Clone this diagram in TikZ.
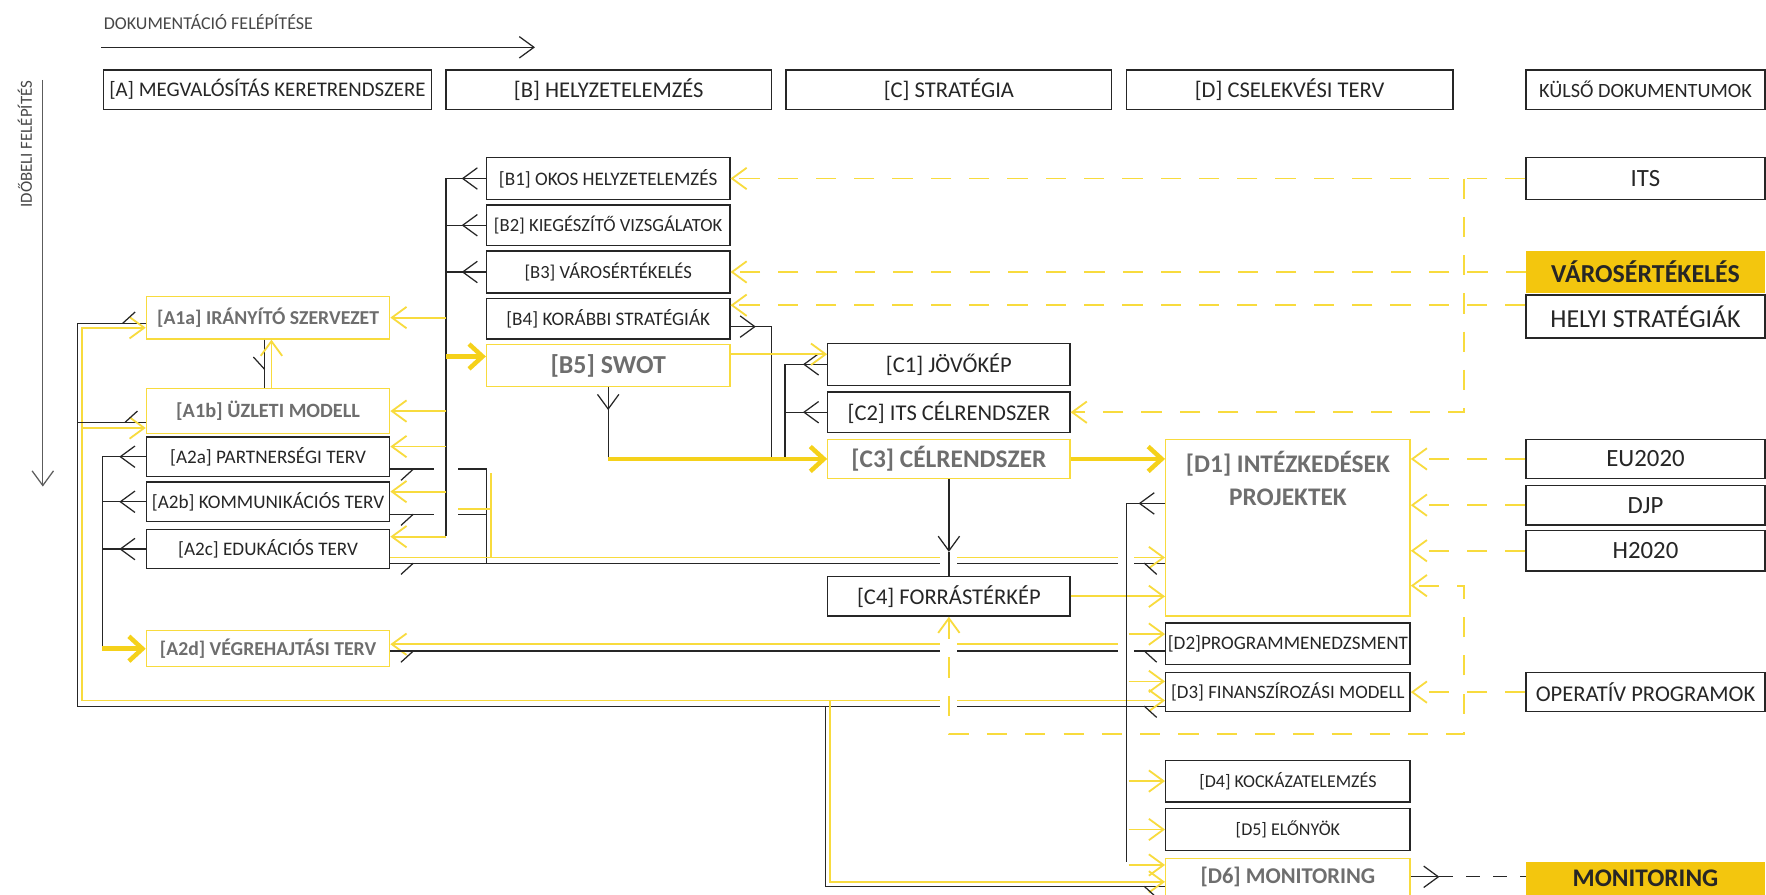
\documentclass[tikz,border=0pt]{standalone}
\usepackage{fontspec}
\setmainfont{Carlito}
\usetikzlibrary{arrows.meta}
\definecolor{yl}{HTML}{F8DB3E}
\definecolor{ylt}{HTML}{F5D11A}
\definecolor{gold}{HTML}{F3C60E}
\definecolor{gtx}{HTML}{6E6E6E}
\definecolor{dk}{HTML}{262626}
\newcommand\fz[1]{\fontsize{#1}{#1}\selectfont}
% half barbs: tip at (#1,#2)
\newcommand\hbRd[2]{\draw[ln] (#1,#2) -- ({#1-11},{#2+10});}
\newcommand\hbLd[2]{\draw[ln] (#1,#2) -- ({#1+11},{#2+10});}
\newcommand\hbLu[2]{\draw[ln] (#1,#2) -- ({#1+11},{#2-10});}
\newcommand\hbDl[2]{\draw[ln] (#1,#2) -- ({#1-10},{#2-11});}
\tikzset{
  sb/.tip={Straight Barb[length=13pt,width=19pt]},
  bigsb/.tip={Straight Barb[length=12pt,width=22pt]},
  bb/.style={draw=dk, line width=1.2pt, minimum width=216, minimum height=36, inner sep=0pt, text=dk, align=center},
  yb/.style={draw=yl, line width=1.2pt, fill=white, minimum width=216, minimum height=36, inner sep=0pt, text=gtx, align=center},
  gb/.style={fill=gold, minimum width=212, inner sep=0pt, text=dk, align=center},
  ln/.style={draw=dk, line width=1.1pt},
  yln/.style={draw=yl, line width=1.6pt},
  thk/.style={draw=ylt, line width=4pt},
  ydsh/.style={draw=yl, line width=1.6pt, dash pattern=on 18pt off 16pt},
}
\begin{document}
\begin{tikzpicture}[x=1pt,y=-1pt]
\useasboundingbox (0,0) rectangle (1568,794);
\fill[white] (0,0) rectangle (1568,794);

% titles
\node[anchor=west, font=\fz{16}, text=dk!85, inner sep=0pt] (t1) at (92,20) {DOKUMENTÁCIÓ FELÉPÍTÉSE};
\node[rotate=90, font=\fz{15}, text=dk!85, inner sep=0pt] (t2) at (22,128) {IDŐBELI FELÉPÍTÉS};
\coordinate (ta0) at (90,42); \coordinate (ta1) at (475,42);
\draw[ln,-{sb}] (ta0) -- (ta1);
\coordinate (tb0) at (38,71); \coordinate (tb1) at (38,432);
\draw[ln,draw=dk!75,-{sb}] (tb0) -- (tb1);

% header
\node[bb, minimum width=291, minimum height=35, font=\fz{18.5}] (hA) at (237.5,79.5) {[A] MEGVALÓSÍTÁS KERETRENDSZERE};
\node[bb, minimum width=289, minimum height=35, font=\fz{20}] (hB) at (540.5,79.5) {[B] HELYZETELEMZÉS};
\node[bb, minimum width=289, minimum height=35, font=\fz{20}] (hC) at (842.5,79.5) {[C] STRATÉGIA};
\node[bb, minimum width=290, minimum height=35, font=\fz{20}] (hD) at (1145,79.5) {[D] CSELEKVÉSI TERV};
\node[bb, minimum width=212, minimum height=35, font=\fz{18}] (hK) at (1461,79.5) {KÜLSŐ DOKUMENTUMOK};

% B column
\node[bb, minimum height=37, font=\fz{17}] (B1) at (540,158.5) {[B1] OKOS HELYZETELEMZÉS};
\node[bb, minimum height=36, font=\fz{16.5}] (B2) at (540,200) {[B2] KIEGÉSZÍTŐ VIZSGÁLATOK};
\node[bb, minimum height=37, font=\fz{16.5}] (B3) at (540,241.5) {[B3] VÁROSÉRTÉKELÉS};
\node[bb, minimum height=36, font=\fz{17}] (B4) at (540,283) {[B4] KORÁBBI STRATÉGIÁK};
\node[yb, minimum height=37, font=\fz{23}\bfseries] (B5) at (540,324.5) {[B5] SWOT};

% A column
\node[yb, minimum height=38, font=\fz{17.5}\bfseries] (A1a) at (238,282) {[A1a] IRÁNYÍTÓ SZERVEZET};
\node[yb, minimum height=40, font=\fz{18}\bfseries] (A1b) at (238,365) {[A1b] ÜZLETI MODELL};
\node[bb, minimum height=35, font=\fz{17}] (A2a) at (238,405.5) {[A2a] PARTNERSÉGI TERV};
\node[bb, minimum height=35, font=\fz{17}] (A2b) at (238,445.5) {[A2b] KOMMUNIKÁCIÓS TERV};
\node[bb, minimum height=35, font=\fz{17}] (A2c) at (238,487.5) {[A2c] EDUKÁCIÓS TERV};
\node[yb, minimum height=32, font=\fz{17.5}\bfseries] (A2d) at (238,576) {[A2d] VÉGREHAJTÁSI TERV};

% C column
\node[bb, minimum width=215, minimum height=37, font=\fz{20}] (C1) at (842.5,323.5) {[C1] JÖVŐKÉP};
\node[bb, minimum width=215, minimum height=36, font=\fz{20}] (C2) at (842.5,366) {[C2] ITS CÉLRENDSZER};
\node[yb, minimum width=215, minimum height=35, font=\fz{22.5}\bfseries] (C3) at (842.5,407.5) {[C3] CÉLRENDSZER};
\node[bb, minimum width=215, minimum height=35, font=\fz{20}] (C4) at (842.5,529.5) {[C4] FORRÁSTÉRKÉP};

% D column
\node[yb, minimum width=217, minimum height=157] (D1) at (1143.5,468.5) {};
\node[text=gtx, align=center, inner sep=0pt, font=\fontsize{22.5}{29}\selectfont\bfseries] (D1t) at (1143.5,425) {[D1] INTÉZKEDÉSEK\\PROJEKTEK};
\node[bb, minimum width=217, minimum height=37, font=\fz{17}] (D2) at (1143.5,571.5) {[D2]PROGRAMMENEDZSMENT};
\node[bb, minimum width=217, minimum height=35, font=\fz{16.8}] (D3) at (1143.5,614.5) {[D3] FINANSZÍROZÁSI MODELL};
\node[bb, minimum width=217, minimum height=37, font=\fz{16}] (D4) at (1143.5,693.5) {[D4] KOCKÁZATELEMZÉS};
\node[bb, minimum width=217, minimum height=37, font=\fz{16}] (D5) at (1143.5,736.5) {[D5] ELŐNYÖK};
\node[yb, minimum width=217, minimum height=33, font=\fz{20}\bfseries] (D6) at (1143.5,778.5) {[D6] MONITORING};

% external documents
\node[bb, minimum width=212, minimum height=37, font=\fz{22}] (ITS) at (1461,158.5) {ITS};
\node[gb, minimum height=37, font=\fz{23}\bfseries] (VAR) at (1461,241.5) {VÁROSÉRTÉKELÉS};
\node[bb, minimum width=212, minimum height=38, font=\fz{23}] (HEL) at (1461,281) {HELYI STRATÉGIÁK};
\node[bb, minimum width=212, minimum height=35, font=\fz{22}] (EU) at (1461,407.5) {EU2020};
\node[bb, minimum width=212, minimum height=35, font=\fz{22}] (DJP) at (1461,448.5) {DJP};
\node[bb, minimum width=212, minimum height=36, font=\fz{22}] (H20) at (1461,489) {H2020};
\node[bb, minimum width=212, minimum height=35, font=\fz{20}] (OP) at (1461,614.5) {OPERATÍV PROGRAMOK};
\node[gb, minimum height=30, font=\fz{22.5}\bfseries] (MON) at (1461,780) {MONITORING};

% ---- B trunk
\draw[ln] (396,158.5) -- (396,476);
\foreach \n in {B1,B2,B3} {
  \draw[ln] (\n.west) -- ++(-36,0);
  \draw[ln,{sb[reversed]}-] ([xshift=-7]\n.west) -- ++(-24,0);
}
\draw[yln,-{sb}] (396,282) -- (A1a.east);
\draw[thk,-{bigsb}] (396,316.5) -- ([yshift=8]B5.west);
\draw[yln,-{sb}] (396,365) -- (A1b.east);
\draw[yln,-{sb}] (396,396.5) -- ([yshift=9]A2a.east);
\draw[yln,-{sb}] (396,436.5) -- ([yshift=9]A2b.east);
\draw[yln,-{sb}] (396,476.5) -- ([yshift=11]A2c.east);

% ---- A2 trunk (left)
\draw[ln] (91,405.5) -- (91,576);
\foreach \n in {A2a,A2b,A2c} {
  \draw[ln] (\n.west) -- ++(-39,0);
  \draw[ln,{sb[reversed]}-] ([xshift=-9]\n.west) -- ++(-24,0);
}
\draw[thk,-{bigsb}] (91,576) -- (A2d.west);

% A2a/A2b to x=432
\draw[ln] ([yshift=-11]A2a.east) -- (385,416.5);
\draw[ln] (407,416.5) -- (432,416.5) -- (432,500);
\draw[ln] ([yshift=-11]A2b.east) -- (385,456.5);
\draw[ln] (407,456.5) -- (432,456.5);
\draw[yln] (436,420) -- (436,495);
\draw[yln] (407,452) -- (436,452);

% A2c -> D1
\draw[ln] ([yshift=-12.5]A2c.east) -- (835,500);
\draw[ln] (850,500) -- (993,500);
\draw[ln] (1007,500) -- ([yshift=-31.5]D1.west);
\draw[yln] ([yshift=-7.5]A2c.east) -- (835,495);
\draw[yln] (850,495) -- (993,495);
\draw[yln,-{sb}] (1007,495) -- ([yshift=-26.5]D1.west);

% A2d -> D2
\draw[yln,{sb}-] ([yshift=4]A2d.east) -- (835,572);
\draw[yln] (850,572) -- (993,572);
\draw[ln] ([yshift=-2]A2d.east) -- (835,578);
\draw[ln] (850,578) -- (993,578);
\draw[ln] (1007,578) -- ([yshift=-6.5]D2.west);

% left loop
\draw[ln] ([yshift=-5]A1a.west) -- (69,287) -- (69,627) -- (835,627);
\draw[ln] (850,627) -- ([yshift=-12.5]D3.west);
\draw[yln,{sb}-] ([yshift=-9]A1a.west) -- (73,291) -- (73,622) -- (835,622);
\draw[yln,-{sb}] (850,622) -- ([yshift=-7.5]D3.west);
\draw[ln] (69,375) -- ([yshift=-10]A1b.west);
\draw[yln,-{sb}] (73,380) -- ([yshift=-15]A1b.west);
\draw[ln] (733,627) -- (733,787) -- ([yshift=-8.5]D6.west);
\draw[yln,-{sb}] (737,622) -- (737,783) -- ([yshift=-4.5]D6.west);

% A1a <-> A1b
\draw[ln] ([xshift=-3]A1a.south) -- ([xshift=-3]A1b.north);
\draw[yln,-{sb}] ([xshift=3]A1b.north) -- ([xshift=3]A1a.south);

% half barbs
\hbLu{109}{287} \hbLu{111}{375}
\hbDl{235}{328}
\hbRd{367}{416.5} \hbRd{367}{456.5} \hbRd{367}{500} \hbRd{367}{578}
\hbLd{1016}{500} \hbLd{1016}{578} \hbLd{1016}{627} \hbLd{1016}{787}

% C area
\draw[ln] ([yshift=-7]B4.east) -- (685,290) -- (685,407.5);
\draw[ln,{sb[reversed]}-] ([xshift=8,yshift=-7]B4.east) -- ++(20,0);
\draw[ln] (697,407.5) -- (697,323.5);
\draw[ln] (697,323.5) -- (C1.west);
\draw[ln,-{sb[reversed]}] (697,323.5) -- ([xshift=-7]C1.west);
\draw[ln] (697,366) -- (C2.west);
\draw[ln,-{sb[reversed]}] (697,366) -- ([xshift=-7]C2.west);
\draw[ln] (B5.south) -- (540,407.5);
\draw[ln,{sb[reversed]}-] ([yshift=-6]B5.south) -- ++(0,24);
\draw[thk,-{bigsb}] (540,407.5) -- (C3.west);
\draw[thk,-{bigsb}] (C3.east) -- (D1.west |- C3.east);
\draw[yln,-{sb}] ([yshift=10]B5.east) -- ([yshift=9]C1.west);
\draw[ln,-{sb}] (C3.south) -- (842.5,490);
\draw[ln] (842.5,490) -- (C4.north);
\draw[yln,-{sb}] (C4.east) -- (D1.west |- C4.east);

% D trunk
\draw[ln] (1000,447) -- (1000,765);
\draw[ln] (1000,447) -- ([yshift=21.5]D1.west);
\draw[ln,-{sb[reversed]}] (1000,447) -- ([xshift=-9,yshift=21.5]D1.west);
\draw[yln,-{sb}] (1002,563) -- ([yshift=8.5]D2.west);
\draw[yln,-{sb}] (1002,605) -- ([yshift=9.5]D3.west);
\draw[yln,-{sb}] (1002,693.5) -- (D4.west);
\draw[yln,-{sb}] (1002,736.5) -- (D5.west);
\draw[yln,-{sb}] (1002,768) -- ([yshift=10.5]D6.west);

% external dashed
\draw[ydsh,-{sb}] (ITS.west) -- (B1.east);
\draw[ydsh,-{sb}] (VAR.west) -- (B3.east);
\draw[ydsh,-{sb}] ([yshift=10]HEL.west) -- ([yshift=12]B4.east);
\draw[ydsh,-{sb}] (1300,158.5) -- (1300,366) -- (C2.east);
\draw[ydsh,-{sb}] (EU.west) -- (D1.east |- EU.west);
\draw[ydsh,-{sb}] (DJP.west) -- (D1.east |- DJP.west);
\draw[ydsh,-{sb}] (H20.west) -- (D1.east |- H20.west);
\draw[ydsh,-{sb}] (OP.west) -- (D3.east);
\draw[ydsh,{sb}-{sb}] (C4.south) -- (842.5,652) -- (1300,652) -- (1300,520) -- ([yshift=-51.5]D1.east);

% monitoring
\draw[ln] (D6.east) -- (1262,778.5);
\draw[ln,-{sb}] (1262,778.5) -- (1278,778.5);
\draw[ln,dash pattern=on 12pt off 12pt] (1278,778.5) -- (MON.west |- D6.east);
\end{tikzpicture}
\end{document}
